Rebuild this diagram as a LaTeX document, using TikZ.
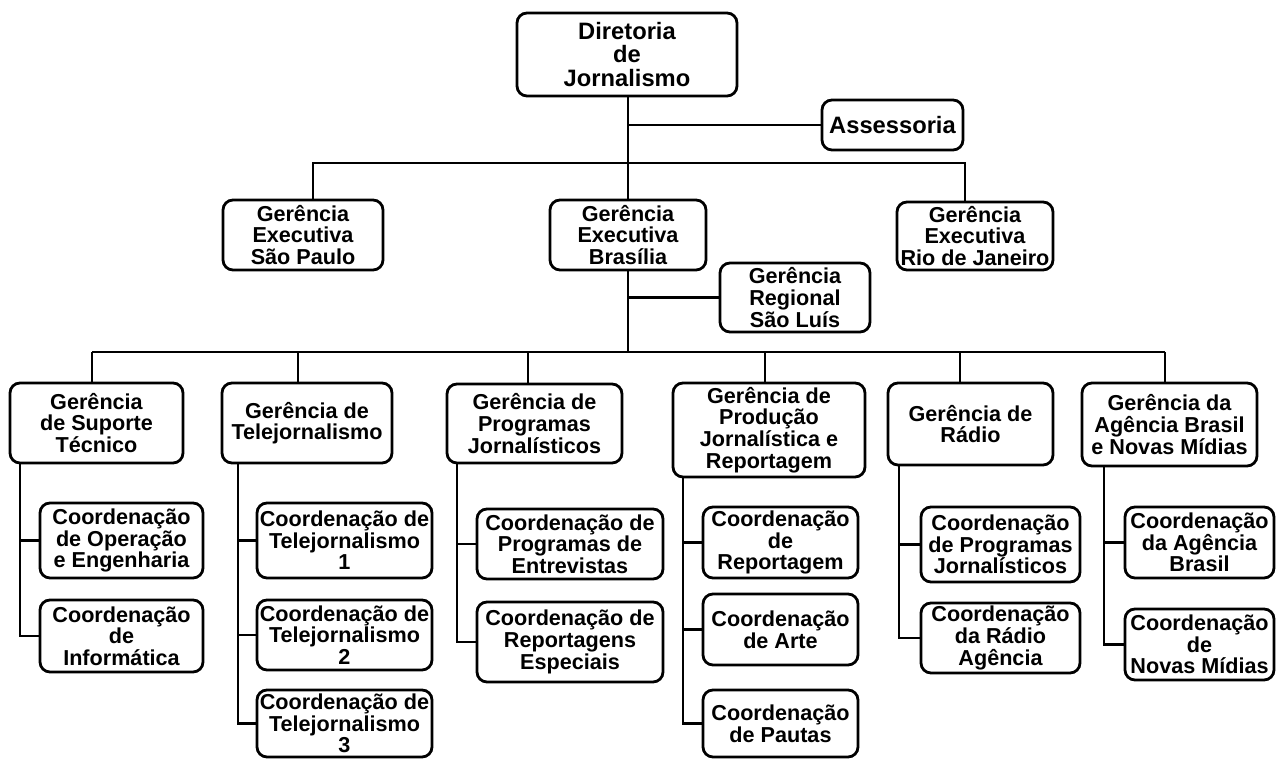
\documentclass[tikz,border=0pt]{standalone}
\usepackage{fontspec}
\setmainfont{Liberation Sans}
\newcommand\obox[6]{\node[bx, minimum width={(#4-#2)*0.02cm}, minimum height={(#5-#3)*0.02cm}] (#1) at ({(#2+#4)/2},{(#3+#5)/2}) {#6};}
\begin{document}
\begin{tikzpicture}[x=0.02cm,y=-0.02cm,
  bx/.style={draw, rounded corners=0.2cm, line width=1.6pt, inner sep=0pt, align=center,
    font=\bfseries\fontsize{12.3}{12.3}\selectfont},
  big/.style={font=\bfseries\fontsize{13.5}{13.5}\selectfont},
  ln/.style={line width=1.6pt}]
\useasboundingbox (0,0) rectangle (1276,759);
% top
\node[bx, big, minimum width={220*0.02cm}, minimum height={83*0.02cm}] (dir) at (627,54.5) {Diretoria\\de\\Jornalismo};
\node[bx, big, minimum width={141*0.02cm}, minimum height={50*0.02cm}] (ass) at (892.5,125) {Assessoria};
% level 2
\obox{sp}{223}{200}{383}{270}{Gerência\\Executiva\\São Paulo}
\obox{bra}{550}{200}{706}{270}{Gerência\\Executiva\\Brasília}
\obox{rio}{897}{202}{1053}{270}{Gerência\\Executiva\\Rio de Janeiro}
\obox{slu}{720}{263}{870}{332}{Gerência\\Regional\\São Luís}
% level 3
\obox{sup}{10}{383}{183}{463}{Gerência\\de Suporte\\Técnico}
\obox{tel}{222}{383}{392}{463}{Gerência de\\Telejornalismo}
\obox{pro}{447}{384}{622}{463}{Gerência de\\Programas\\Jornalísticos}
\obox{prd}{673}{383}{865}{477}{Gerência de\\Produção\\Jornalística e\\Reportagem}
\obox{rad}{888}{383}{1053}{465}{Gerência de\\Rádio}
\obox{agb}{1082}{383}{1257}{466}{Gerência da\\Agência Brasil\\e Novas Mídias}
% level 4
\obox{c11}{40}{503}{203}{578}{Coordenação\\de Operação\\e Engenharia}
\obox{c12}{40}{600}{203}{672}{Coordenação\\de\\Informática}
\obox{c21}{257}{503}{432}{578}{Coordenação de\\Telejornalismo\\1}
\obox{c22}{257}{600}{432}{670}{Coordenação de\\Telejornalismo\\2}
\obox{c23}{257}{690}{432}{757}{Coordenação de\\Telejornalismo\\3}
\obox{c31}{477}{509}{663}{579}{Coordenação de\\Programas de\\Entrevistas}
\obox{c32}{477}{602}{663}{682}{Coordenação de\\Reportagens\\Especiais}
\obox{c41}{703}{507}{858}{578}{Coordenação\\de\\Reportagem}
\obox{c42}{703}{594}{858}{665}{Coordenação\\de Arte}
\obox{c43}{703}{690}{858}{757}{Coordenação\\de Pautas}
\obox{c51}{921}{507}{1080}{582}{Coordenação\\de Programas\\Jornalísticos}
\obox{c52}{921}{603}{1080}{673}{Coordenação\\da Rádio\\Agência}
\obox{c61}{1125}{507}{1274}{578}{Coordenação\\da Agência\\Brasil}
\obox{c62}{1125}{609}{1274}{680}{Coordenação\\de\\Novas Mídias}
% connectors top
\coordinate (ja) at (628,125);
\coordinate (d1) at (313,163);
\coordinate (d2) at (965,163);
\draw[ln] (bra.north |- dir.south) -- (bra.north);
\draw[ln] (ja) -- (ass.west);
\draw[ln] (d1 |- sp.north) -- (d1) -- (d2) -- (d2 |- rio.north);
% Brasilia
\coordinate (js) at (628,297.5);
\coordinate (bb) at (628,352);
\draw[ln] (bra.south) -- (bb);
\draw[ln] (js) -- (slu.west);
\coordinate (e1) at (92,352);
\coordinate (e2) at (298,352);
\coordinate (e3) at (528,352);
\coordinate (e4) at (765,352);
\coordinate (e5) at (960,352);
\coordinate (e6) at (1165,352);
\draw[ln] (e1) -- (e6);
\draw[ln] (e1) -- (e1 |- sup.north);
\draw[ln] (e2) -- (e2 |- tel.north);
\draw[ln] (e3) -- (e3 |- pro.north);
\draw[ln] (e4) -- (e4 |- prd.north);
\draw[ln] (e5) -- (e5 |- rad.north);
\draw[ln] (e6) -- (e6 |- agb.north);
% spines
\coordinate (s1) at (20,0);
\coordinate (s2) at (238,0);
\coordinate (s3) at (457,0);
\coordinate (s4) at (683,0);
\coordinate (s5) at (899,0);
\coordinate (s6) at (1104,0);
\draw[ln] (s1 |- sup.south) |- (c12.west);
\draw[ln] (s1 |- c11.west) -- (c11.west);
\draw[ln] (s2 |- tel.south) |- (c23.west);
\draw[ln] (s2 |- c21.west) -- (c21.west);
\draw[ln] (s2 |- c22.west) -- (c22.west);
\draw[ln] (s3 |- pro.south) |- (c32.west);
\draw[ln] (s3 |- c31.west) -- (c31.west);
\draw[ln] (s4 |- prd.south) |- (c43.west);
\draw[ln] (s4 |- c41.west) -- (c41.west);
\draw[ln] (s4 |- c42.west) -- (c42.west);
\draw[ln] (s5 |- rad.south) |- (c52.west);
\draw[ln] (s5 |- c51.west) -- (c51.west);
\draw[ln] (s6 |- agb.south) |- (c62.west);
\draw[ln] (s6 |- c61.west) -- (c61.west);
\end{tikzpicture}
\end{document}
